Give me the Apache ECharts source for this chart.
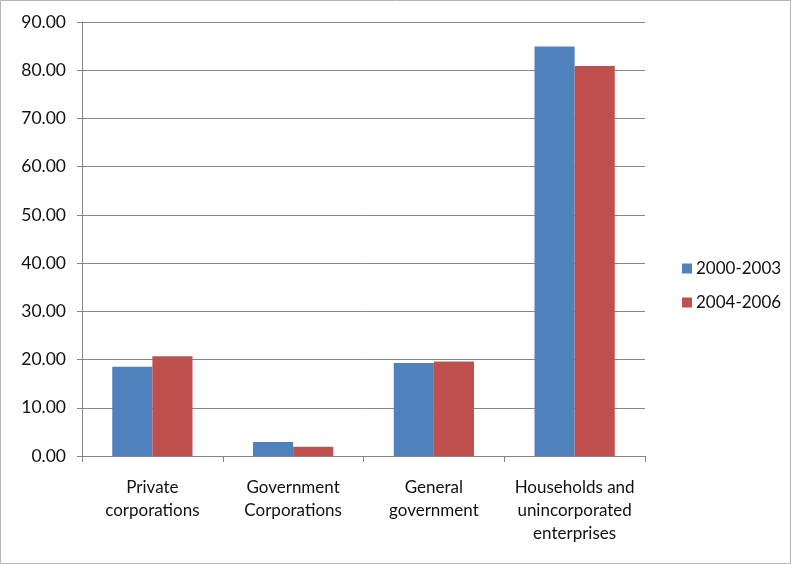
<!DOCTYPE html>
<html><head><meta charset="utf-8">
<script src="https://cdn.jsdelivr.net/npm/echarts@6/dist/echarts.min.js"></script>
<style>html,body{margin:0;padding:0;background:#fff}#c{width:791px;height:564px}</style>
</head><body><div id="c"></div>
<script>
const categories = ['Private\ncorporations', 'Government\nCorporations', 'General\ngovernment', 'Households and\nunincorporated\nenterprises'];
const series2000_2003 = [18.5, 2.9, 19.3, 84.9];
const series2004_2006 = [20.7, 1.9, 19.6, 80.9];
const seriesNames = ['2000-2003', '2004-2006'];
const yTicks = { min: 0, max: 90, interval: 10 };

const font = 'Lato, "Open Sans", sans-serif';
const chart = echarts.init(document.getElementById('c'), null, { renderer: 'canvas' });
chart.setOption({
  animation: false,
  graphic: [{ type: 'rect', shape: { x: 0.5, y: 0.5, width: 790, height: 563 }, style: { fill: 'none', stroke: '#b5b5b5', lineWidth: 1 } }],
  grid: { left: 82, right: 146, top: 22, bottom: 108 },
  legend: {
    orient: 'vertical', left: 677, top: 255, itemWidth: 10, itemHeight: 10, itemGap: 17,
    icon: 'rect',
    textStyle: { fontFamily: font, fontSize: 17, color: '#111', padding: [0, 0, 0, -1] },
    data: seriesNames
  },
  xAxis: {
    type: 'category', data: categories,
    axisLine: { lineStyle: { color: '#868686' } },
    axisTick: { show: true, length: 6, lineStyle: { color: '#868686' } },
    axisLabel: { fontFamily: font, fontSize: 17, color: '#111', lineHeight: 23, margin: 20, interval: 0 }
  },
  yAxis: {
    type: 'value', min: yTicks.min, max: yTicks.max, interval: yTicks.interval,
    axisLine: { show: true, lineStyle: { color: '#868686' } },
    axisTick: { show: true, length: 5, lineStyle: { color: '#868686' } },
    splitLine: { lineStyle: { color: '#868686' } },
    axisLabel: { fontFamily: font, fontSize: 17.5, color: '#111', margin: 16, formatter: v => v.toFixed(2) }
  },
  series: [
    { name: seriesNames[0], type: 'bar', data: series2000_2003, itemStyle: { color: '#4F81BD' }, barGap: '0%', barCategoryGap: '43%' },
    { name: seriesNames[1], type: 'bar', data: series2004_2006, itemStyle: { color: '#C0504D' }, barGap: '0%', barCategoryGap: '43%' }
  ]
});
</script></body></html>
